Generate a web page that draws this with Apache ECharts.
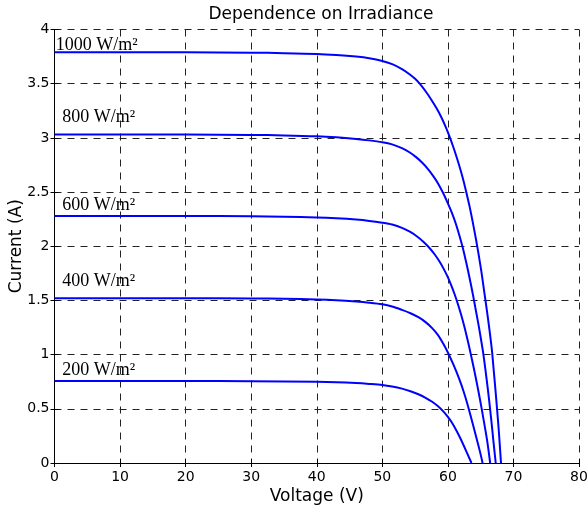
<!DOCTYPE html>
<html>
<head>
<meta charset="utf-8">
<script src="https://cdn.jsdelivr.net/npm/echarts@6/dist/echarts.min.js"></script>
<style>html,body{margin:0;padding:0;background:#fff;}#c{width:588px;height:508px;}</style>
</head>
<body>
<div id="c"></div>
<script>
// Voltage (V) / Current (A) points
const v1000 = [0,10,20,30,35,40,43,46,48,50,51.5,53,54.1,55,55.7,56.6,57.5,58.3,59.0,59.6,60.2,60.8,61.4,61.9,62.4,62.8,63.3,63.8,64.3,64.7,65.1,65.5,65.9,66.3,66.7,67.0,67.25,67.5,67.8,68.1];
const i1000 = [3.79,3.79,3.789,3.786,3.782,3.775,3.765,3.75,3.735,3.71,3.68,3.635,3.59,3.545,3.5,3.43,3.35,3.27,3.19,3.11,3.02,2.92,2.81,2.71,2.6,2.5,2.37,2.22,2.06,1.92,1.77,1.6,1.43,1.25,1.05,0.85,0.68,0.5,0.27,0];
const v800 = [0,20,30,35,40,43,46,48,50,51.5,53,54.2,55.2,56.1,57.0,57.8,58.5,59.2,59.9,60.6,61.2,61.8,62.3,62.8,63.3,63.8,64.2,64.6,65.0,65.4,65.75,66.1,66.4,66.7,67.0,67.3];
const i800 = [3.03,3.03,3.027,3.023,3.015,3.005,2.99,2.977,2.96,2.94,2.905,2.865,2.82,2.77,2.71,2.645,2.58,2.5,2.41,2.31,2.21,2.09,1.98,1.85,1.71,1.56,1.43,1.3,1.16,1.01,0.85,0.68,0.52,0.35,0.17,0];
const v600 = [0,20,30,35,40,43,46,48,50,51.5,53,54.2,55.3,56.3,57.2,58.0,58.7,59.3,59.9,60.5,61.0,61.5,62.0,62.5,63.0,63.5,64.0,64.5,65.0,65.5,66.0,66.45];
const i600 = [2.28,2.28,2.277,2.273,2.266,2.258,2.246,2.234,2.217,2.2,2.17,2.134,2.09,2.04,1.984,1.924,1.861,1.798,1.726,1.642,1.562,1.472,1.372,1.262,1.137,1.002,0.862,0.712,0.552,0.382,0.202,0];
const v400 = [0,20,30,35,40,43,46,48,50,51.5,53,54.3,55.5,56.6,57.6,58.5,59.3,60.0,60.9,61.7,62.4,63.0,63.6,64.2,64.8,65.3];
const i400 = [1.52,1.52,1.518,1.515,1.509,1.502,1.49,1.479,1.464,1.444,1.413,1.382,1.345,1.3,1.245,1.18,1.1,1.02,0.9,0.78,0.66,0.54,0.405,0.268,0.128,0];
const v200 = [0,20,30,40,43,46,48,50,51.5,53,54.3,55.5,56.6,57.6,58.5,59.3,60.0,60.7,61.3,61.9,62.5,63.05,63.6];
const i200 = [0.756,0.756,0.755,0.75,0.746,0.738,0.73,0.72,0.706,0.686,0.662,0.634,0.602,0.565,0.523,0.476,0.425,0.365,0.3,0.228,0.15,0.075,0];

const curveNames = ['1000 W/m²','800 W/m²','600 W/m²','400 W/m²','200 W/m²'];
const curveV = [v1000, v800, v600, v400, v200];
const curveI = [i1000, i800, i600, i400, i200];
// label anchors (data units: V, A)
const labelV = [0.2, 1.2, 1.2, 1.2, 1.2];
const labelI = [3.856, 3.19, 2.38, 1.68, 0.858];

const xTicks = {min: 0, max: 80, interval: 10};
const yTicks = {min: 0, max: 4, interval: 0.5};

const chart = echarts.init(document.getElementById('c'), null, {renderer: 'canvas'});
const SANS = 'DejaVu Sans';
const SERIF = 'Liberation Serif';
const gridLine = {show: true, lineStyle: {color: '#222', width: 1, type: [7, 6]}};

const series = curveNames.map((n, k) => ({
  name: n,
  type: 'line',
  data: curveV[k].map((v, j) => [v, curveI[k][j]]),
  showSymbol: false,
  smooth: 0.3,
  lineStyle: {color: '#0000ff', width: 2},
  z: 5,
  markPoint: {
    symbol: 'circle', symbolSize: 0, silent: true,
    data: [{coord: [labelV[k], labelI[k]], value: n}],
    label: {show: true, position: 'right', distance: 0, formatter: n,
      fontFamily: SERIF, fontSize: 18, color: '#000', align: 'left', verticalAlign: 'middle'}
  }
}));

chart.setOption({
  animation: false,
  backgroundColor: '#fff',
  title: {
    text: 'Dependence on Irradiance', left: 316, top: 1, textAlign: 'center',
    textStyle: {fontFamily: SANS, fontSize: 17, fontWeight: 'normal', color: '#000'}
  },
  grid: {left: 54.5, right: 9, top: 29.5, bottom: 45, containLabel: false, outerBoundsMode: 'none'},
  xAxis: [{
    type: 'value', min: xTicks.min, max: xTicks.max, interval: xTicks.interval,
    name: 'Voltage (V)', nameLocation: 'middle', nameGap: 25, nameMoveOverlap: false,
    nameTextStyle: {fontFamily: SANS, fontSize: 17, color: '#000'},
    axisLine: {show: true, lineStyle: {color: '#000', width: 1}},
    axisTick: {show: true, inside: true, length: 4, lineStyle: {color: '#000'}},
    axisLabel: {fontFamily: SANS, fontSize: 14, color: '#000', margin: 7},
    splitLine: gridLine
  }, {
    type: 'value', position: 'top', min: xTicks.min, max: xTicks.max, interval: xTicks.interval,
    axisLine: {show: true, lineStyle: {color: '#000', width: 1}},
    axisTick: {show: true, inside: true, length: 4, lineStyle: {color: '#000'}},
    axisLabel: {show: false}, splitLine: {show: false}
  }],
  yAxis: [{
    type: 'value', min: yTicks.min, max: yTicks.max, interval: yTicks.interval,
    name: 'Current (A)', nameLocation: 'middle', nameGap: 29.5, nameMoveOverlap: false,
    nameTextStyle: {fontFamily: SANS, fontSize: 17, color: '#000'},
    axisLine: {show: true, lineStyle: {color: '#000', width: 1}},
    axisTick: {show: true, inside: true, length: 4, lineStyle: {color: '#000'}},
    axisLabel: {fontFamily: SANS, fontSize: 14, color: '#000', margin: 5},
    splitLine: gridLine
  }, {
    type: 'value', position: 'right', min: yTicks.min, max: yTicks.max, interval: yTicks.interval,
    axisLine: {show: true, lineStyle: {color: '#000', width: 1}},
    axisTick: {show: true, inside: true, length: 4, lineStyle: {color: '#000'}},
    axisLabel: {show: false}, splitLine: {show: false}
  }],
  series: series
});
</script>
</body>
</html>
